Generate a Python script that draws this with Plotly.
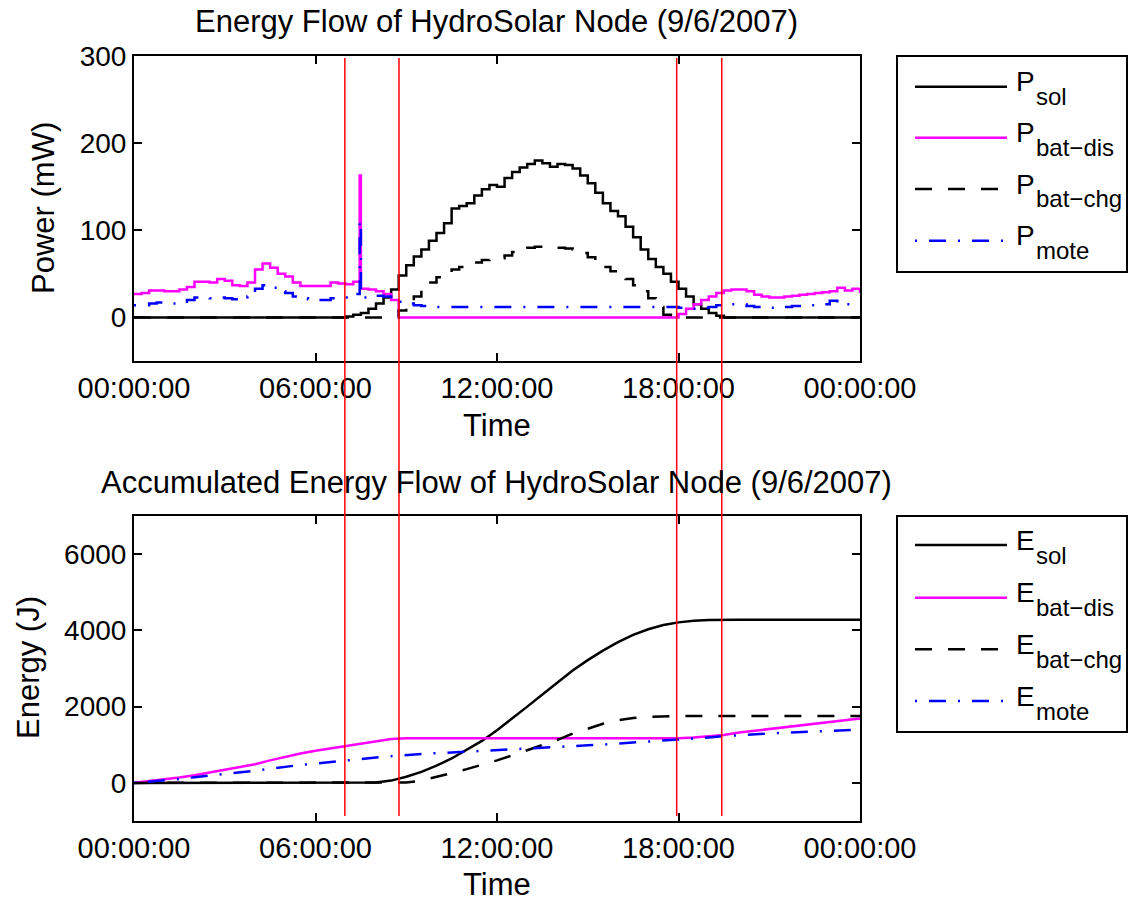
import numpy as np
import plotly.graph_objects as go

W, H = 1135, 902
FONT = "Liberation Sans, Arial, Helvetica, sans-serif"

# ---------------- data ----------------
HOURS_P = np.arange(97) * 0.25   # 15-minute samples over the day
HOURS_E = np.arange(49) * 0.5    # 30-minute samples over the day

p_sol = [0] * 28 + [
    1, 3, 5, 10, 16, 23, 32, 48, 60, 70, 78, 88, 97, 108, 125, 128, 131, 140, 147, 152,
    150, 160, 167, 172, 176, 180, 177, 173, 176, 175, 171, 163, 154, 143, 131, 122, 116,
    104, 92, 78, 67, 58, 50, 41, 33, 24, 15, 10, 5, 2] + [0] * 19

p_bat_dis = [
    27, 28, 31, 31, 30, 30, 32, 35, 41, 41, 40, 44, 42, 37, 36, 40, 55, 62, 57, 50, 47,
    40, 36, 36, 36, 36, 40, 39, 38, 41, 33, 32, 30, 27, 20] + [0] * 37 + [
    4, 10, 15, 20, 24, 28, 31, 32, 32, 30, 26, 24, 23, 23, 24, 25, 26, 27, 28, 29, 30,
    34, 31, 33, 28]

p_bat_chg = [0] * 35 + [
    8, 14, 24, 32, 40, 46, 50, 55, 58, 61, 63, 66, 67, 68, 71, 75, 78, 80, 81, 81, 80,
    80, 79, 78, 74, 69, 64, 58, 53, 49, 44, 37, 30, 22, 12, 3] + [0] * 26

p_mote = [
    14, 14, 16, 17, 16, 16, 18, 20, 23, 23, 22, 23, 22, 21, 20, 24, 33, 37, 34, 30, 28,
    24, 22, 21, 20, 20, 22, 22, 23, 27, 23, 24, 25, 24, 20, 18, 16, 14, 13, 12,
    12, 12, 12, 12, 12, 12, 12, 12, 12, 12, 12, 12, 12, 12, 12, 12, 12, 12, 12, 12, 12,
    12, 12, 12, 12, 12, 12, 12, 12, 12, 12, 12,
    11, 10, 10, 11, 12, 14, 15, 15, 15, 13, 12, 11, 11, 12, 12, 13, 13, 14, 14, 15, 19,
    15, 15, 15, 15]

spike_hour = 7.46
spike_bat_dis = 163
spike_mote = 111

e_sol = [0] * 16 + [
    10, 60, 160, 290, 450, 640, 860, 1100, 1380, 1680, 2000, 2320, 2640, 2950, 3220,
    3470, 3690, 3880, 4030, 4140, 4210, 4250, 4270] + [4280] * 10

e_bat_dis = [
    0, 40, 90, 140, 200, 270, 345, 415, 490, 590, 690, 770, 840, 905, 970, 1040, 1100,
    1150, 1170, 1170, 1170, 1170, 1170, 1170, 1170, 1170, 1170, 1170, 1170, 1170, 1170,
    1170, 1170, 1170, 1170, 1170, 1172, 1190, 1220, 1255, 1320, 1365, 1405, 1450, 1495,
    1540, 1590, 1640, 1690]

e_bat_chg = [0] * 18 + [
    10, 60, 150, 255, 360, 470, 590, 720, 850, 990, 1130, 1290, 1430, 1550, 1640, 1700,
    1735, 1748] + [1752] * 13

e_mote = [
    0, 30, 65, 100, 150, 190, 225, 265, 315, 370, 425, 470, 505, 540, 578, 625, 668,
    705, 735, 760, 778, 797, 815, 834, 853, 873, 895, 918, 940, 962, 984, 1005, 1030,
    1058, 1083, 1108, 1135, 1160, 1190, 1225, 1255, 1275, 1295, 1315, 1335, 1355, 1370,
    1383, 1396]

event_hours = [6.97, 8.76, 17.94, 19.43]

x_tick_hours = [0, 6, 12, 18, 24]
x_tick_labels = ["00:00:00", "06:00:00", "12:00:00", "18:00:00", "00:00:00"]
p_ticks = [0, 100, 200, 300]
e_ticks = [0, 2000, 4000, 6000]

p_names = ["sol", "bat\u2212dis", "bat\u2212chg", "mote"]

# ---------------- helpers ----------------
def px(x):
    return x / W


def py(y):
    return 1 - y / H


def with_spike(t, v, ts, vs):
    pts = sorted(list(zip(list(t), v)) + [(ts, vs)])
    return [p[0] for p in pts], [p[1] for p in pts]


BLACK = "#000000"
MAGENTA = "#ff00ff"
BLUE = "#0000ff"
DASH = "17px,16px"
DASHDOT = "2px,12px,17px,12px"
LW = 2.5
styles = [
    dict(color=BLACK, dash="solid"),
    dict(color=MAGENTA, dash="solid"),
    dict(color=BLACK, dash=DASH),
    dict(color=BLUE, dash=DASHDOT),
]

fig = go.Figure()

# ---------------- top: power ----------------
dis_t, dis_v = with_spike(HOURS_P, p_bat_dis, spike_hour, spike_bat_dis)
mote_t, mote_v = with_spike(HOURS_P, p_mote, spike_hour, spike_mote)
power_series = [
    (list(HOURS_P), p_sol),
    (dis_t, dis_v),
    (list(HOURS_P), p_bat_chg),
    (mote_t, mote_v),
]
for (t, v), st, nm in zip(power_series, styles, p_names):
    fig.add_trace(go.Scatter(
        x=t, y=v, mode="lines", name="P_" + nm, showlegend=False,
        line=dict(color=st["color"], dash=st["dash"], width=LW, shape="hv"),
        xaxis="x", yaxis="y", hoverinfo="skip"))

# ---------------- bottom: energy ----------------
energy_series = [e_sol, e_bat_dis, e_bat_chg, e_mote]
for v, st, nm in zip(energy_series, styles, p_names):
    fig.add_trace(go.Scatter(
        x=list(HOURS_E), y=v, mode="lines", name="E_" + nm, showlegend=False,
        line=dict(color=st["color"], dash=st["dash"], width=LW),
        xaxis="x2", yaxis="y2", hoverinfo="skip"))

axis_common = dict(
    showline=True, linecolor="black", linewidth=2, mirror="ticks",
    ticks="inside", ticklen=8, tickwidth=1.5, tickcolor="black",
    showgrid=False, zeroline=False, automargin=False,
)
xfont = dict(family=FONT, size=29, color="black")
yfont = dict(family=FONT, size=28, color="black")
x_dom = [px(134), px(860)]
fig.update_layout(
    width=W, height=H,
    margin=dict(l=0, r=0, t=0, b=0),
    paper_bgcolor="white", plot_bgcolor="white",
    font=dict(family=FONT, color="black"),
    xaxis=dict(domain=x_dom, range=[0, 24], anchor="y", tickfont=xfont,
               tickvals=x_tick_hours, ticktext=x_tick_labels, **axis_common),
    yaxis=dict(domain=[py(361), py(56)], range=[-50, 300], anchor="x", tickfont=yfont,
               tickvals=p_ticks, **axis_common),
    xaxis2=dict(domain=x_dom, range=[0, 24], anchor="y2", tickfont=xfont,
                tickvals=x_tick_hours, ticktext=x_tick_labels, **axis_common),
    yaxis2=dict(domain=[py(821), py(516)], range=[-1000, 7000], anchor="x2", tickfont=yfont,
                tickvals=e_ticks, **axis_common),
)

shapes = []
# event markers spanning both panels
for h in event_hours:
    shapes.append(dict(type="line", xref="x", yref="paper", x0=h, x1=h,
                       y0=py(816), y1=py(58), line=dict(color="red", width=1.5)))

# legends (drawn manually to mimic the MATLAB look)
annotations = []
legend_sets = [
    ("P", 56, 272, [86.7, 137.7, 189.0, 240.7]),
    ("E", 516, 732, [545.0, 597.7, 649.3, 701.0]),
]
for letter, top, bot, rows in legend_sets:
    shapes.append(dict(type="rect", xref="paper", yref="paper",
                       x0=px(897), x1=px(1127), y0=py(bot), y1=py(top),
                       line=dict(color="black", width=2), fillcolor="white", layer="below"))
    for ry, st, nm in zip(rows, styles, p_names):
        shapes.append(dict(type="line", xref="paper", yref="paper",
                           x0=px(915), x1=px(1007), y0=py(ry), y1=py(ry),
                           line=dict(color=st["color"], dash=st["dash"], width=LW)))
        annotations.append(dict(xref="paper", yref="paper", x=px(1014), y=py(ry - 5),
                                xanchor="left", yanchor="middle", showarrow=False,
                                text=letter, font=dict(family=FONT, size=28, color="black")))
        annotations.append(dict(xref="paper", yref="paper", x=px(1034), y=py(ry + 10),
                                xanchor="left", yanchor="middle", showarrow=False,
                                text=nm, font=dict(family=FONT, size=24, color="black")))

TFS = 31
text_items = [
    ("Energy Flow of HydroSolar Node (9/6/2007)", 497, 21, 0),
    ("Time", 497, 425, 0),
    ("Accumulated Energy Flow of HydroSolar Node (9/6/2007)", 497, 482, 0),
    ("Time", 497, 884, 0),
    ("Power (mW)", 43, 208, -90),
    ("Energy (J)", 28, 668, -90),
]
for txt, x, y, ang in text_items:
    annotations.append(dict(xref="paper", yref="paper", x=px(x), y=py(y),
                            xanchor="center", yanchor="middle", showarrow=False,
                            textangle=ang, text=txt,
                            font=dict(family=FONT, size=TFS, color="black")))

fig.update_layout(shapes=shapes, annotations=annotations)
fig.write_html("out.html")
